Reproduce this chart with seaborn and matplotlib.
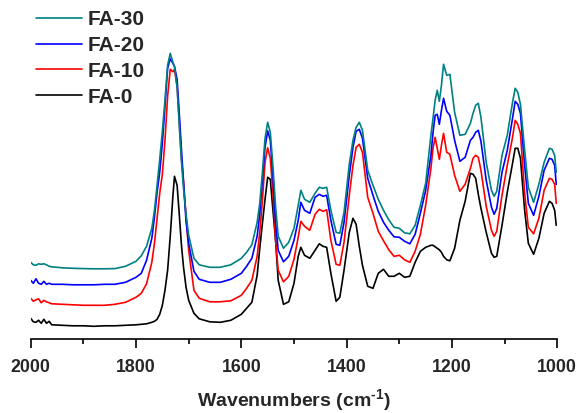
import numpy as np
import pandas as pd
import matplotlib
matplotlib.use("Agg")
import matplotlib.pyplot as plt
import seaborn as sns
from matplotlib.ticker import MultipleLocator

# ----------------------------------
# Data (arbitrary absorbance units)
# ----------------------------------

wavenumber = [
    2000, 1995, 1990, 1985, 1980, 1975, 1970, 1965, 1960,
    1940, 1920, 1900, 1880, 1860, 1840, 1820, 1800,
    1790, 1780, 1770, 1765, 1760, 1755, 1750, 1745,
    1740, 1735, 1730, 1727, 1722, 1718, 1714, 1710,
    1705, 1700, 1690, 1680, 1660, 1640, 1620,
    1600, 1590, 1580, 1570, 1565, 1560, 1555, 1550,
    1545, 1540, 1535, 1530, 1520, 1510, 1500, 1492,
    1487, 1480, 1470, 1460, 1452, 1445, 1438, 1430,
    1420, 1413, 1405, 1395, 1388, 1382, 1376, 1370,
    1360, 1350, 1340, 1330, 1320, 1310, 1300, 1290,
    1280, 1270, 1260, 1250, 1240, 1236, 1232, 1228,
    1224, 1220, 1216, 1210, 1204, 1195, 1185, 1175,
    1165, 1160, 1155, 1150, 1145, 1135, 1125, 1120,
    1115, 1105, 1095, 1085, 1080, 1075, 1070, 1062,
    1055, 1045, 1035, 1025, 1015, 1010, 1005, 1002,
]

fa0 = [
    21, 17.5, 17, 19, 16, 20, 16, 18, 14.5,
    14, 13.5, 13.5, 13, 13.5, 13.5, 14, 14.5,
    15, 15.5, 17, 18, 20, 25, 34, 49,
    69, 103, 143, 163, 154, 126, 96, 73,
    52, 39, 26, 20.5, 17.5, 17, 19,
    25, 31, 37, 64, 91, 116, 140, 162,
    160, 129, 99, 59, 35, 37.5, 56, 83,
    92, 84, 81, 89, 95.5, 93, 92, 66,
    38, 42, 69, 107, 121, 115, 93, 74,
    53, 51, 66, 70, 63, 63, 66, 62,
    63, 77, 88, 92, 94, 94, 92.5, 91,
    89.5, 87, 83, 79.5, 78.5, 91, 119, 138,
    166, 165, 161, 145, 131, 107, 86, 82,
    83, 114, 147, 176, 191, 191, 181, 129,
    96, 85, 101, 126, 138, 136, 129, 114,
]

fa10 = [
    41, 38, 39.5, 40.5, 36.5, 39, 37.5, 36.5, 35.5,
    35, 34.5, 34, 34, 34, 35, 37, 42,
    46, 55.5, 77, 96, 121, 146, 165, 199,
    243, 270, 267.5, 270, 253, 219, 182, 159,
    123, 89, 49, 41, 37.5, 37.5, 38.5,
    44, 51, 59, 83, 107, 139, 177, 191.5,
    181, 146, 99, 69, 57.5, 63, 80, 102,
    118, 113, 109, 125, 130, 128, 129.5, 99,
    75, 74, 97, 144, 174, 192, 195, 187,
    142, 126, 108, 98.5, 89.5, 83, 84, 79.5,
    77, 88, 105, 134, 171, 191, 202, 191,
    180, 194, 206, 187, 185, 164, 148, 155,
    171, 181, 184, 182, 169, 133, 109, 103,
    108, 144, 174, 202, 219, 215, 206, 146,
    112, 105.5, 121, 149, 161, 160, 155, 136,
]

fa20 = [
    59, 56, 60.5, 56, 55, 58, 55, 56, 55,
    55, 54.5, 54.5, 54.5, 55, 55, 57, 62,
    66, 79, 101, 122, 147, 167, 196, 233,
    271, 280.5, 276, 273, 260, 227, 192, 159,
    118, 96, 68, 60, 57, 57, 60,
    66, 73, 81, 103, 126, 159, 192, 208.5,
    199, 163, 117, 89, 77.5, 83, 99, 119,
    137, 129, 126, 142, 145, 143, 144, 119,
    95, 94, 117, 164, 192, 208, 210, 201,
    161, 144, 128, 117, 109, 102.5, 102, 98,
    95.5, 105, 126, 149, 184, 207, 224, 225,
    215, 229, 241, 228, 224, 199, 178, 182,
    199, 202, 207, 209, 198, 159, 132, 125,
    131, 167, 189, 221, 238, 235, 226, 174,
    136, 124, 143, 169, 181, 180, 174, 155,
]

fa30 = [
    77, 74.5, 74, 75.5, 75, 75.5, 74.5, 73, 72.5,
    71.5, 71, 70.7, 70.5, 70.5, 70.7, 73, 78,
    83.5, 93, 111, 129, 154, 180, 208, 239,
    274, 286, 277, 273, 252, 215, 180, 152,
    125, 104, 81, 74.5, 72, 72, 74.5,
    81, 87, 94.5, 117, 136, 167, 201, 217,
    207, 173, 133, 103, 91, 97, 111, 134,
    149, 140, 137, 146, 152, 151, 152, 129,
    107, 106, 127, 175, 199, 212, 217, 209,
    169, 154, 140, 129, 119.5, 112, 111, 106.5,
    105.5, 114, 134, 156, 204, 221, 239, 249,
    238, 254, 275, 264, 265, 227, 204, 205,
    216, 226, 234, 236, 222, 177, 149, 143,
    148, 184, 204, 237, 251, 247, 235, 189,
    152, 137, 155, 177, 191, 190, 184, 167,
]

sample_names = ["FA-0", "FA-10", "FA-20", "FA-30"]
sample_colors = ["#000000", "#ff0000", "#0000ff", "#008080"]

df = pd.DataFrame({
    "wavenumber": wavenumber,
    "FA-0": fa0,
    "FA-10": fa10,
    "FA-20": fa20,
    "FA-30": fa30,
}).melt(id_vars="wavenumber", var_name="sample", value_name="absorbance")

# ----------------------------------
# Style
# ----------------------------------

sns.set_style("white")
plt.rcParams["font.family"] = ["Liberation Sans", "DejaVu Sans"]
plt.rcParams["mathtext.fontset"] = "custom"
plt.rcParams["mathtext.rm"] = "Liberation Sans:bold"
plt.rcParams["mathtext.it"] = "Liberation Sans:bold"
plt.rcParams["mathtext.bf"] = "Liberation Sans:bold"

fig = plt.figure(figsize=(5.79, 4.13), dpi=100)
ax = fig.add_axes([30.7 / 579, 73.7 / 413, 526.6 / 579, 339.3 / 413])

sns.lineplot(
    data=df,
    x="wavenumber",
    y="absorbance",
    hue="sample",
    hue_order=sample_names,
    palette=sample_colors,
    estimator=None,
    linewidth=1.2,
    ax=ax
)

ax.set_xlim(2000, 1000)
ax.set_ylim(0, 339.3)

for side in ["left", "top", "right"]:
    ax.spines[side].set_visible(False)
ax.spines["bottom"].set_linewidth(1.2)
ax.spines["bottom"].set_color("black")

ax.set_yticks([])
ax.xaxis.set_major_locator(MultipleLocator(200))
ax.xaxis.set_minor_locator(MultipleLocator(100))
ax.tick_params(axis="x", which="major", direction="out", length=6.5,
               width=1.2, color="black", pad=7.5, labelsize=12.8)
ax.tick_params(axis="x", which="minor", direction="out", length=3.6,
               width=1.2, color="black")
ax.xaxis.set_ticks_position("bottom")
for lab in ax.get_xticklabels():
    lab.set_fontweight("bold")

ax.set_ylabel("")
ax.set_xlabel(r"Wavenumbers (cm$^{\text{-1}}$)", fontsize=14, fontweight="bold",
              labelpad=8.5)

handles, labels = ax.get_legend_handles_labels()
ax.legend(
    handles[::-1],
    labels[::-1],
    loc="upper left",
    bbox_to_anchor=(36 / 579, 1 - 10 / 413),
    bbox_transform=fig.transFigure,
    frameon=False,
    prop={"weight": "bold", "size": 15},
    handlelength=2.2,
    handletextpad=0.27,
    labelspacing=0.33,
    borderpad=0,
    borderaxespad=0
)

fig.savefig("out.png", dpi=100)
plt.close(fig)
